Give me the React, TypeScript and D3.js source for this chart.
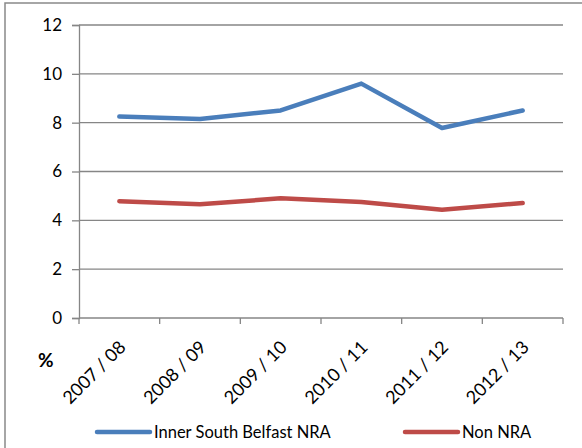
import React, { useEffect, useRef } from "react";
import * as d3 from "d3";

const years = ["2007 / 08", "2008 / 09", "2009 / 10", "2010 / 11", "2011 / 12", "2012 / 13"];
const innerSouth = [8.25, 8.15, 8.5, 9.6, 7.78, 8.5];
const nonNra = [4.78, 4.66, 4.9, 4.75, 4.43, 4.71];
const yTicks = [0, 2, 4, 6, 8, 10, 12];

const W = 582;
const H = 448;
const font = "Lato, 'Open Sans', sans-serif";

export default function App() {
  const ref = useRef<SVGSVGElement>(null);

  useEffect(() => {
    const svg = d3.select(ref.current);
    svg.selectAll("*").remove();

    // outer chart border
    svg.append("rect")
      .attr("x", 5).attr("y", 3)
      .attr("width", 620).attr("height", 500)
      .attr("fill", "white")
      .attr("stroke", "#898989")
      .attr("stroke-width", 1.5);

    const left = 79, right = 563, top = 25, bottom = 318;

    const x = d3.scaleBand().domain(years).range([left, right]);
    const y = d3.scaleLinear().domain([0, 12]).range([bottom, top]);

    // gridlines
    svg.append("g")
      .selectAll("line")
      .data(yTicks.filter((t) => t > 0))
      .enter()
      .append("line")
      .attr("x1", left).attr("x2", right)
      .attr("y1", (d) => y(d)).attr("y2", (d) => y(d))
      .attr("stroke", "#868686")
      .attr("stroke-width", 1.3);

    // y axis
    const ya = svg.append("g").attr("transform", `translate(${left},0)`)
      .call(d3.axisLeft(y).tickValues(yTicks).tickSize(7).tickPadding(10).tickFormat(d3.format("d")));
    ya.select(".domain").attr("stroke", "#868686").attr("stroke-width", 1.3);
    ya.selectAll(".tick line").attr("stroke", "#868686").attr("stroke-width", 1.3);
    ya.selectAll("text").attr("font-family", font).attr("font-size", 17).attr("fill", "#000");

    // x axis
    const xa = svg.append("g").attr("transform", `translate(0,${bottom})`);
    xa.append("line")
      .attr("x1", left).attr("x2", right)
      .attr("stroke", "#868686").attr("stroke-width", 1.3);
    const edges = years.map((d) => x(d) as number).concat([right]);
    xa.selectAll("line.tk")
      .data(edges)
      .enter()
      .append("line")
      .attr("class", "tk")
      .attr("x1", (d) => d).attr("x2", (d) => d)
      .attr("y1", 0).attr("y2", 6)
      .attr("stroke", "#868686").attr("stroke-width", 1.3);
    xa.selectAll("text")
      .data(years)
      .enter()
      .append("text")
      .attr("transform", (d) => `translate(${(x(d) as number) + x.bandwidth() / 2 + 3},${26}) rotate(-45)`)
      .attr("text-anchor", "end")
      .attr("dy", "0.35em")
      .attr("font-family", font)
      .attr("font-size", 18)
      .text((d) => d);

    svg.append("text")
      .attr("x", 38).attr("y", 367)
      .attr("font-family", font)
      .attr("font-weight", "bold")
      .attr("font-size", 19)
      .text("%");

    const line = d3.line<number>()
      .x((_, i) => (x(years[i]) as number) + x.bandwidth() / 2)
      .y((d) => y(d));

    const series = [
      { name: "Inner South Belfast NRA", values: innerSouth, color: "#4a7ebb" },
      { name: "Non NRA", values: nonNra, color: "#be4b48" },
    ];

    series.forEach((s) => {
      svg.append("path")
        .attr("d", line(s.values))
        .attr("fill", "none")
        .attr("stroke", s.color)
        .attr("stroke-width", 4.5)
        .attr("stroke-linecap", "round")
        .attr("stroke-linejoin", "round");
    });

    // legend
    const legendX = [97, 405];
    series.forEach((s, i) => {
      const g = svg.append("g").attr("transform", `translate(${legendX[i]},432)`);
      g.append("line")
        .attr("x1", 0).attr("x2", 53)
        .attr("stroke", s.color)
        .attr("stroke-width", 4.5)
        .attr("stroke-linecap", "round");
      g.append("text")
        .attr("x", 57).attr("dy", "0.35em")
        .attr("font-family", font)
        .attr("font-size", 16.5)
        .text(s.name);
    });
  }, []);

  return (
    <svg
      ref={ref}
      width={W}
      height={H}
      style={{ position: "absolute", left: 0, top: 0, display: "block" }}
    />
  );
}
